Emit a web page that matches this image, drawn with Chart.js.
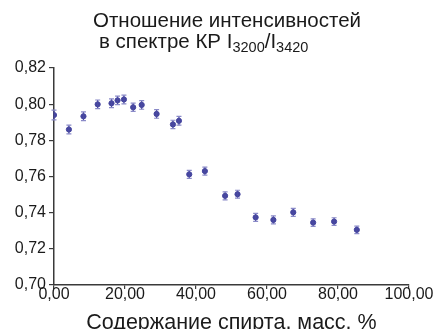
<!DOCTYPE html>
<html>
<head>
<meta charset="utf-8">
<script src="https://cdn.jsdelivr.net/npm/chart.js@4/dist/chart.umd.min.js"></script>
<style>
  html, body { margin: 0; padding: 0; background: #fff; overflow: hidden; }
  #wrap { position: relative; width: 433px; height: 336px; }
  #c { position: absolute; left: 0; top: 0; }
  .t { position: absolute; font-family: "Liberation Sans", Arial, sans-serif; font-size: 20.5px; color: #1a1a1a; white-space: nowrap; line-height: 1; }
  .t sub { font-size: 14.5px; vertical-align: -4px; line-height: 0; }
</style>
</head>
<body>
<div id="wrap">
  <canvas id="c" width="433" height="336"></canvas>
  <div class="t" id="t1" style="left:93px; top:10px;">Отношение интенсивностей</div>
  <div class="t" id="t2" style="left:99px; top:31px;">в спектре КР I<sub>3200</sub>/I<sub>3420</sub></div>
</div>
<script>
// Data
const alcoholContent = [0, 4.2, 8.3, 12.3, 16.2, 17.9, 19.7, 22.3, 24.7, 28.9, 33.5, 35.2, 38.1, 42.5, 48.2, 51.7, 56.8, 61.8, 67.4, 73.0, 78.9, 85.3];
const intensityRatio = [0.794, 0.786, 0.7933, 0.7999, 0.8005, 0.8021, 0.8026, 0.7983, 0.7996, 0.7946, 0.7888, 0.7908, 0.7612, 0.7630, 0.7493, 0.7502, 0.7374, 0.7360, 0.7402, 0.7345, 0.7351, 0.7305];
const ratioError = [0.0027, 0.0024, 0.0024, 0.0024, 0.0024, 0.0024, 0.0024, 0.0023, 0.0024, 0.0024, 0.0023, 0.0024, 0.0022, 0.0022, 0.0022, 0.0022, 0.0022, 0.0022, 0.0022, 0.0021, 0.0021, 0.0021];
const xTicks = [0, 20, 40, 60, 80, 100];
const yTicks = [0.70, 0.72, 0.74, 0.76, 0.78, 0.80, 0.82];
const xTitle = 'Содержание спирта, масс. %';

const points = alcoholContent.map((x, i) => ({ x: x, y: intensityRatio[i] }));
const fmt = v => v.toFixed(2).replace('.', ',');
const FONT = "'Liberation Sans', Arial, sans-serif";

const errorBars = {
  id: 'errorBars',
  afterDatasetsDraw(chart) {
    const ctx = chart.ctx, xs = chart.scales.x, ys = chart.scales.y;
    ctx.save();
    points.forEach((p, i) => {
      const px = xs.getPixelForValue(p.x);
      const top = ys.getPixelForValue(p.y + ratioError[i]);
      const bot = ys.getPixelForValue(p.y - ratioError[i]);
      ctx.strokeStyle = '#4a4aa2';
      ctx.lineWidth = 1.3;
      ctx.beginPath();
      ctx.moveTo(px, top); ctx.lineTo(px, bot);
      ctx.stroke();
      ctx.strokeStyle = '#8a8ac8';
      ctx.lineWidth = 1.2;
      ctx.beginPath();
      ctx.moveTo(px - 2.5, top); ctx.lineTo(px + 2.5, top);
      ctx.moveTo(px - 2.5, bot); ctx.lineTo(px + 2.5, bot);
      ctx.stroke();
    });
    ctx.restore();
  }
};

new Chart(document.getElementById('c'), {
  type: 'scatter',
  data: {
    datasets: [{
      data: points,
      backgroundColor: '#45459e',
      borderColor: '#45459e',
      pointRadius: 2.6,
      pointHoverRadius: 2.6
    }]
  },
  options: {
    responsive: false,
    animation: false,
    devicePixelRatio: 1,
    layout: { padding: { top: 68, right: 24, left: 0, bottom: 0 } },
    plugins: { legend: { display: false }, tooltip: { enabled: false }, title: { display: false } },
    scales: {
      x: {
        type: 'linear', min: 0, max: 100,
        afterBuildTicks: s => { s.ticks = xTicks.map(v => ({ value: v })); },
        afterFit: s => { s.height = 51; },
        border: { color: '#3a3a3a', width: 1.5 },
        grid: { drawOnChartArea: false, tickLength: 4, color: '#3a3a3a', lineWidth: 1.2 },
        ticks: { padding: -4, color: '#1a1a1a', font: { family: FONT, size: 16 }, callback: v => fmt(v), maxRotation: 0, autoSkip: false },
        title: { display: true, text: xTitle, color: '#1a1a1a', font: { family: FONT, size: 21.5 }, padding: { top: 0, bottom: 0 } }
      },
      y: {
        type: 'linear', min: 0.70, max: 0.82,
        afterBuildTicks: s => { s.ticks = yTicks.map(v => ({ value: v })); },
        afterFit: s => { s.width = 54; },
        border: { color: '#3a3a3a', width: 1.5 },
        grid: { drawOnChartArea: false, tickLength: 5, color: '#3a3a3a', lineWidth: 1.2 },
        ticks: { padding: 3, color: '#1a1a1a', font: { family: FONT, size: 16 }, callback: v => fmt(v) }
      }
    }
  },
  plugins: [errorBars]
});
</script>
</body>
</html>
